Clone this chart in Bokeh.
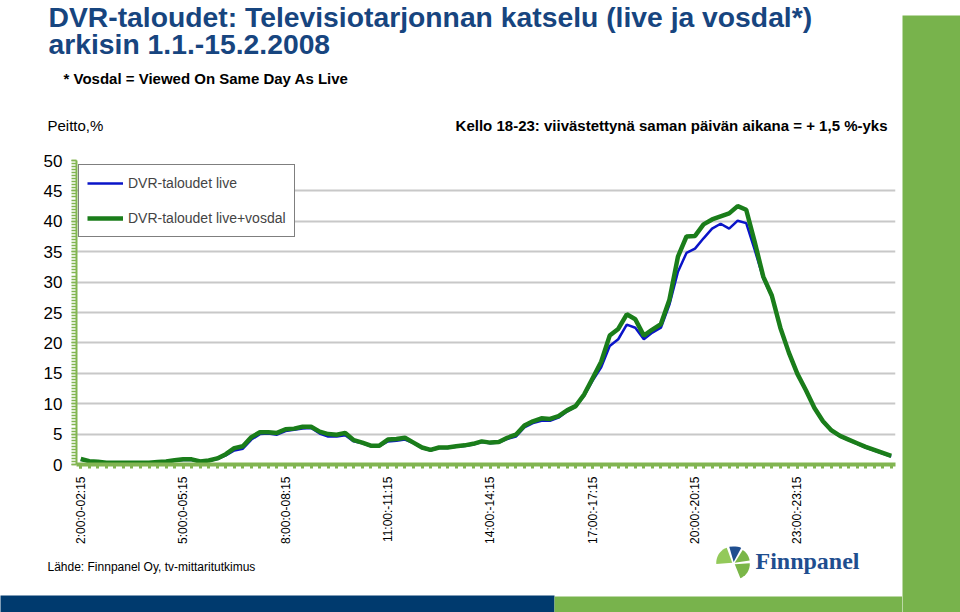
import math
from bokeh.plotting import figure
from bokeh.layouts import column, row
from bokeh.models import (Range1d, FixedTicker, SingleIntervalTicker, Label,
                          Legend, LegendItem, ColumnDataSource)
from bokeh.embed import file_html
from bokeh.resources import INLINE

# ---------------- data ----------------
slot_index = list(range(96))  # 15-minute slots from 2:00 to 1:45 (next day)
tick_positions = [0, 12, 24, 36, 48, 60, 72, 84]
tick_labels = ["2:00:0-02:15", "5:00:0-05:15", "8:00:0-08:15", "11:00:-11:15",
               "14:00:-14:15", "17:00:-17:15", "20:00:-20:15", "23:00:-23:15"]

live = [0.8, 0.45, 0.4, 0.25, 0.25, 0.25, 0.25, 0.25, 0.25, 0.35, 0.45, 0.6,
        0.75, 0.75, 0.45, 0.6, 0.9, 1.5, 2.3, 2.6, 4.1, 5.0, 5.1, 4.9,
        5.5, 5.7, 5.9, 6.0, 5.1, 4.6, 4.6, 4.8, 3.8, 3.5, 3.0, 3.0,
        3.8, 3.9, 4.1, 3.5, 2.7, 2.3, 2.7, 2.7, 2.9, 3.05, 3.3, 3.7,
        3.5, 3.6, 4.2, 4.6, 6.1, 6.8, 7.2, 7.2, 7.7, 8.7, 9.5, 11.3,
        13.8, 16.0, 19.5, 20.6, 23.0, 22.5, 20.6, 21.7, 22.5, 26.3, 31.7, 34.8,
        35.5, 37.2, 38.8, 39.6, 38.8, 40.1, 39.7, 35.3, 30.6, 27.6, 22.4, 18.3,
        14.8, 12.1, 9.2, 7.0, 5.5, 4.6, 4.0, 3.4, 2.8, 2.3, 1.8, 1.3]

live_vosdal = [0.9, 0.55, 0.45, 0.3, 0.3, 0.3, 0.3, 0.3, 0.3, 0.4, 0.5, 0.7,
               0.85, 0.85, 0.5, 0.65, 1.0, 1.7, 2.7, 3.0, 4.5, 5.3, 5.3, 5.2,
               5.8, 5.9, 6.2, 6.2, 5.4, 5.0, 4.9, 5.2, 4.0, 3.6, 3.1, 3.1,
               4.1, 4.2, 4.4, 3.6, 2.8, 2.4, 2.8, 2.8, 3.0, 3.15, 3.4, 3.8,
               3.6, 3.7, 4.4, 4.9, 6.4, 7.1, 7.6, 7.5, 7.95, 8.9, 9.6, 11.5,
               14.2, 16.9, 21.2, 22.3, 24.7, 23.9, 21.2, 22.2, 23.1, 27.1, 34.2, 37.5,
               37.6, 39.5, 40.3, 40.8, 41.3, 42.5, 41.9, 36.6, 30.9, 27.8, 22.5, 18.4,
               14.9, 12.2, 9.3, 7.1, 5.6, 4.7, 4.1, 3.5, 2.9, 2.4, 1.9, 1.4]

series_names = ["DVR-taloudet live", "DVR-taloudet live+vosdal"]

# ---------------- style ----------------
TITLE_BLUE = "#17457f"
LINE_BLUE = "#0a14c8"
LINE_GREEN = "#1a7d1a"
AXIS_GREEN = "#82b552"
BAR_GREEN = "#78b34c"
BAR_BLUE = "#003a6e"
FONT = "Liberation Sans"

PAGE_W, PAGE_H = 960, 612
HEAD_H = 140          # header band: y 0..140
CHART_BOTTOM = 546    # chart band: y 140..546, footer: 546..612
BAR_X = 902           # right green bar starts here
FL, FT, FR, FB = 76, 160, 895, 466  # plot frame edges in page coordinates


def deco_fig(w, h, y0, x0=0, bg="white"):
    """Figure whose frame is the whole canvas, in page pixel coordinates (y down)."""
    f = figure(width=w, height=h, output_backend="svg", toolbar_location=None, title=None,
               x_range=Range1d(x0, x0 + w), y_range=Range1d(y0 + h, y0),
               x_axis_location=None, y_axis_location=None, min_border=0)
    f.grid.visible = False
    f.outline_line_color = None
    f.background_fill_color = bg
    f.border_fill_color = bg
    return f


def add_text(f, X, Y, text, size, bold=False, color="black", align="left", font=FONT):
    f.add_layout(Label(x=X, y=Y, text=text, text_font=font, text_font_size=f"{size}px",
                       text_font_style="bold" if bold else "normal",
                       text_color=color, text_align=align, text_baseline="middle"))


# ---------------- header ----------------
head = deco_fig(BAR_X, HEAD_H, 0)
add_text(head, 48, 16, "DVR-taloudet: Televisiotarjonnan katselu (live ja vosdal*)", 28.3,
         bold=True, color=TITLE_BLUE)
add_text(head, 48, 43, "arkisin 1.1.-15.2.2008", 28.3, bold=True, color=TITLE_BLUE)
add_text(head, 63, 78, "* Vosdal = Viewed On Same Day As Live", 15, bold=True)
add_text(head, 47, 125, "Peitto,%", 15)
add_text(head, 887, 125, "Kello 18-23: viivästettynä saman päivän aikana = + 1,5 %-yks", 15,
         bold=True, align="right")

# ---------------- chart ----------------
CH_W, CH_H = BAR_X, CHART_BOTTOM - HEAD_H
p = figure(width=CH_W, height=CH_H, output_backend="svg", toolbar_location=None, title=None,
           x_range=Range1d(-0.5, 95.5), y_range=Range1d(0, 50),
           min_border_left=FL, min_border_right=CH_W - FR,
           min_border_top=FT - HEAD_H, min_border_bottom=CHART_BOTTOM - FB)
p.outline_line_color = None
p.background_fill_color = "white"
p.border_fill_color = "white"

src = ColumnDataSource(dict(x=slot_index, live=live, vosdal=live_vosdal))
r_live = p.line(x="x", y="live", source=src, line_color=LINE_BLUE, line_width=2.5)
r_vos = p.line(x="x", y="vosdal", source=src, line_color=LINE_GREEN, line_width=4.5)

p.xgrid.visible = False
p.ygrid.grid_line_color = "#c8c8c8"
p.ygrid.grid_line_width = 2

xa = p.xaxis[0]
xa.ticker = FixedTicker(ticks=tick_positions, minor_ticks=slot_index)
xa.major_label_overrides = {t: l for t, l in zip(tick_positions, tick_labels)}
xa.major_label_orientation = math.pi / 2
xa.major_label_text_font = FONT
xa.major_label_text_font_size = "12px"
xa.major_label_text_color = "black"
xa.major_label_standoff = 8
xa.axis_line_color = AXIS_GREEN
xa.axis_line_width = 4
xa.major_tick_line_color = AXIS_GREEN
xa.minor_tick_line_color = AXIS_GREEN
xa.major_tick_line_width = 3
xa.minor_tick_line_width = 3
xa.major_tick_in = 0
xa.major_tick_out = 4
xa.minor_tick_in = 0
xa.minor_tick_out = 4

ya = p.yaxis[0]
ya.ticker = SingleIntervalTicker(interval=5, num_minor_ticks=10)
ya.major_label_text_font = FONT
ya.major_label_text_font_size = "17px"
ya.major_label_text_color = "black"
ya.major_label_standoff = 9
ya.axis_line_color = AXIS_GREEN
ya.axis_line_width = 2
ya.major_tick_line_color = AXIS_GREEN
ya.minor_tick_line_color = AXIS_GREEN
ya.major_tick_line_width = 1.5
ya.minor_tick_line_width = 1.5
ya.major_tick_in = 0
ya.major_tick_out = 5
ya.minor_tick_in = 0
ya.minor_tick_out = 5

legend = Legend(items=[LegendItem(label=series_names[0], renderers=[r_live]),
                       LegendItem(label=series_names[1], renderers=[r_vos])],
                location=(2, FB - 239), margin=0, padding=8, spacing=15,
                glyph_width=36, glyph_height=20, label_height=20, label_standoff=5,
                label_text_font=FONT, label_text_font_size="14px",
                border_line_color="black", border_line_width=1,
                background_fill_color="white", background_fill_alpha=1)
p.add_layout(legend)

# ---------------- footer ----------------
FOOT_H = PAGE_H - CHART_BOTTOM
foot = deco_fig(BAR_X, FOOT_H, CHART_BOTTOM)
foot.quad(left=[-4], right=[554], top=[595], bottom=[PAGE_H + 4],
          fill_color=BAR_BLUE, line_color=None)
foot.quad(left=[554], right=[BAR_X + 4], top=[596], bottom=[PAGE_H + 4],
          fill_color=BAR_GREEN, line_color=None)
add_text(foot, 47, 566, "Lähde: Finnpanel Oy, tv-mittaritutkimus", 12)
add_text(foot, 755, 560, "Finnpanel", 24, bold=True, color="#1f4e8f", font="Liberation Serif")


def wedge_pts(cx, cy, r, a0, a1, off=1.5):
    am = math.radians((a0 + a1) / 2)
    ox, oy = off * math.cos(am), off * math.sin(am)
    xs = [cx + ox]
    ys = [cy - oy]
    n = 10
    for k in range(n + 1):
        a = math.radians(a0 + (a1 - a0) * k / n)
        xs.append(cx + ox + r * math.cos(a))
        ys.append(cy - oy - r * math.sin(a))
    return xs, ys


logo = [(110, 185, 16, "#93c95a"), (62, 106, 16, "#1f4e8f"),
        (8, 58, 15, "#7ab648"), (-68, 4, 15, "#7ab648")]
lx, ly, lc = [], [], []
for a0, a1, r, c in logo:
    xs, ys = wedge_pts(733, 563, r, a0, a1)
    lx.append(xs)
    ly.append(ys)
    lc.append(c)
foot.patches(xs=lx, ys=ly, fill_color=lc, line_color=None)

# ---------------- right green bar (full height) ----------------
side = deco_fig(PAGE_W - BAR_X, PAGE_H, 0, x0=BAR_X)
side.quad(left=[BAR_X - 4], right=[PAGE_W + 4], top=[15], bottom=[PAGE_H + 4],
          fill_color=BAR_GREEN, line_color=None)

# the chart is wrapped in its own row so that the column does not align its frame
# with the frames of the header and footer figures
layout = row(column(head, row(p, spacing=0), foot, spacing=0), side, spacing=0)
open("out.html", "w").write(file_html(layout, INLINE))
